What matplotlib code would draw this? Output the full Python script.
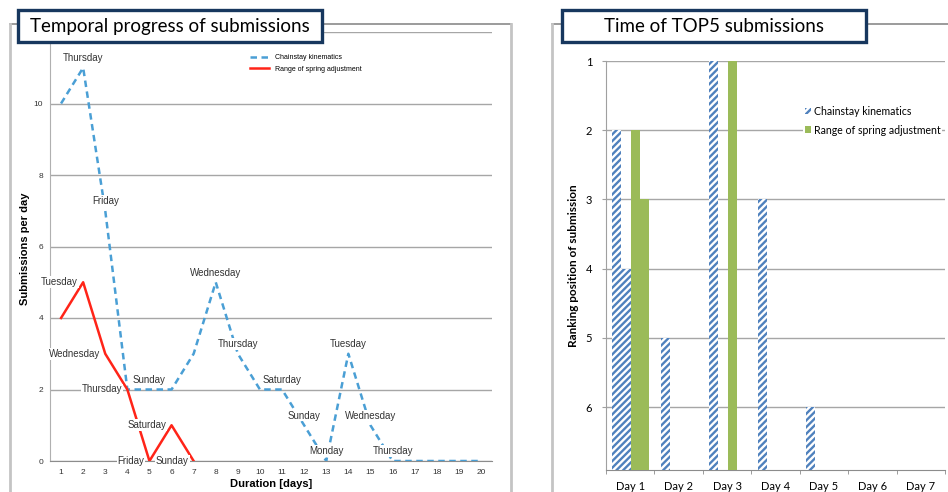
import matplotlib.pyplot as plt
from matplotlib.patches import Rectangle, Patch
from matplotlib.lines import Line2D
import numpy as np

W, H = 948, 492

# left chart: submissions per day
days = list(range(1, 21))
chainstay = [10, 11, 7, 2, 2, 2, 3, 5, 3, 2, 2, 1, 0, 3, 1, 0, 0, 0, 0, 0]
spring_days = list(range(1, 8))
spring = [4, 5, 3, 2, 0, 1, 0]
chainstay_weekdays = {2: 'Thursday', 3: 'Friday', 5: 'Sunday', 8: 'Wednesday',
                      9: 'Thursday', 11: 'Saturday', 12: 'Sunday', 13: 'Monday',
                      14: 'Tuesday', 15: 'Wednesday', 16: 'Thursday'}
spring_weekdays = {2: 'Tuesday', 3: 'Wednesday', 4: 'Thursday', 5: 'Friday',
                   6: 'Saturday', 7: 'Sunday'}

# right chart: ranking positions of the TOP5 submissions
top5_days = ['Day 1', 'Day 2', 'Day 3', 'Day 4', 'Day 5', 'Day 6', 'Day 7']
chainstay_rank_a = [2, 5, 1, 3, 6, np.nan, np.nan]
chainstay_rank_b = [4, np.nan, np.nan, np.nan, np.nan, np.nan, np.nan]
spring_rank_a = [2, np.nan, 1, np.nan, np.nan, np.nan, np.nan]
spring_rank_b = [3, np.nan, np.nan, np.nan, np.nan, np.nan, np.nan]

BLUE_LINE = '#4A9FD5'
RED_LINE = '#FF2418'
HATCH_BLUE = '#4F81BD'
GREEN = '#9BBB59'
NAVY = '#17375E'
GRID = '#A6A6A6'
TXT = '#333333'

plt.rcParams['hatch.linewidth'] = 1.7

fig = plt.figure(figsize=(W / 100, H / 100), dpi=100)


def fx(x):
    return x / W


def fy(y):
    return 1 - y / H


def frame_lines(x0, x1, top):
    fig.add_artist(Line2D([fx(x0), fx(x1)], [fy(top), fy(top)], color='#808080', lw=1.1,
                          transform=fig.transFigure))
    for xv in (x0, x1):
        fig.add_artist(Line2D([fx(xv), fx(xv)], [fy(top), 0], color='#C4C4C4', lw=2,
                              transform=fig.transFigure))


def title_box(x0, x1, text):
    fig.add_artist(Rectangle((fx(x0), fy(42)), fx(x1) - fx(x0), fy(10) - fy(42),
                             facecolor='white', edgecolor=NAVY, lw=2.4,
                             transform=fig.transFigure, zorder=5))
    fig.text(fx((x0 + x1) / 2), fy(26.5), text, ha='center', va='center',
             fontsize=13.5, family='Lato', color='black', zorder=6)


frame_lines(10, 511, 24)
frame_lines(552, 960, 24)

# ---------------- left: temporal progress ----------------
ax = fig.add_axes([fx(50), fy(461), fx(492) - fx(50), fy(32) - fy(461)])
ax.plot(days, chainstay, color=BLUE_LINE, lw=1.8, ls=(0, (2.6, 1.8)),
        label='Chainstay kinematics', zorder=3)
ax.plot(spring_days, spring, color=RED_LINE, lw=1.8, label='Range of spring adjustment',
        zorder=4)

box = dict(facecolor='white', edgecolor='none', pad=0.6)
for d, name in chainstay_weekdays.items():
    ax.annotate(name, (d, chainstay[d - 1]), xytext=(0, 7), textcoords='offset points',
                ha='center', va='center', fontsize=7, family='Liberation Sans',
                color=TXT, bbox=box, zorder=6)
for d, name in spring_weekdays.items():
    ax.annotate(name, (d, spring[d - 1]), xytext=(-3.6, 0), textcoords='offset points',
                ha='right', va='center', fontsize=7, family='Liberation Sans',
                color=TXT, bbox=box, zorder=6)

ax.set_xlim(0.5, 20.5)
ax.set_ylim(0, 12)
ax.set_xticks(days)
yt = list(range(0, 13, 2))
ax.set_yticks(yt)
ax.set_yticklabels([str(v) if v < 12 else '' for v in yt])
ax.tick_params(length=0, labelsize=6, labelcolor=TXT)
ax.tick_params(axis='x', pad=6)
ax.tick_params(axis='y', pad=5)
for lab in ax.get_xticklabels() + ax.get_yticklabels():
    lab.set_family('Liberation Sans')
ax.grid(axis='y', color=GRID, lw=1)
ax.set_axisbelow(True)
for s in ('top', 'right'):
    ax.spines[s].set_visible(False)
ax.spines['left'].set_color('#B0B0B0')
ax.spines['bottom'].set_color('#8C8C8C')
ax.set_xlabel('Duration [days]', fontsize=8, fontweight='bold', family='Liberation Sans')
ax.set_ylabel('Submissions per day', fontsize=8, fontweight='bold', family='Liberation Sans')
ax.xaxis.set_label_coords(0.5, -18 / 429)
ax.yaxis.set_label_coords(-20 / 442, 0.495)
ax.legend(loc='upper left', bbox_to_anchor=((247 - 50) / 442, (461 - 51) / 429),
          frameon=False, prop={'family': 'Liberation Sans', 'size': 5},
          handlelength=2.6, handletextpad=1.0, labelspacing=0.6, borderpad=0)

# ---------------- right: TOP5 submissions ----------------
ax2 = fig.add_axes([fx(606), fy(470), fx(945) - fx(606), fy(61) - fy(470)])
ybot = 6.91
xpos = np.arange(len(top5_days))
width = 0.19
series = [(chainstay_rank_a, 'hatch'), (chainstay_rank_b, 'hatch'),
          (spring_rank_a, 'green'), (spring_rank_b, 'green')]
for i, (vals, kind) in enumerate(series):
    vals = np.array(vals, dtype=float)
    ok = ~np.isnan(vals)
    off = (i - 1.5) * width + 0.01
    if kind == 'hatch':
        ax2.bar(xpos[ok] + off, vals[ok] - ybot, bottom=ybot, width=width,
                facecolor='white', edgecolor=HATCH_BLUE, hatch='/////', lw=0, zorder=3)
    else:
        ax2.bar(xpos[ok] + off, vals[ok] - ybot, bottom=ybot, width=width,
                color=GREEN, lw=0, zorder=3)

ax2.set_xlim(-0.5, len(top5_days) - 0.5)
ax2.set_ylim(ybot, 1)
ax2.set_yticks(range(1, 7))
ax2.set_xticks(xpos)
ax2.set_xticklabels(top5_days)
ax2.set_xticks(np.arange(-0.5, len(top5_days)), minor=True)
ax2.tick_params(axis='x', which='major', length=0, pad=8)
ax2.tick_params(axis='x', which='minor', length=3, color='#8C8C8C')
ax2.tick_params(axis='y', length=3, color='#A0A0A0', pad=7)
ax2.tick_params(labelsize=8, labelcolor='black')
for lab in ax2.get_xticklabels() + ax2.get_yticklabels():
    lab.set_family('Lato')
ax2.grid(axis='y', color=GRID, lw=1)
ax2.set_axisbelow(True)
for s in ('top', 'right'):
    ax2.spines[s].set_visible(False)
ax2.spines['left'].set_color('#A0A0A0')
ax2.spines['bottom'].set_color('#8C8C8C')
ax2.set_ylabel('Ranking position of submission', fontsize=8.5, fontweight='bold', family='Lato')
ax2.yaxis.set_label_coords(-27 / 339, 0.5)

handles = [Patch(facecolor='white', edgecolor=HATCH_BLUE, hatch='/////', lw=0),
           Patch(facecolor=GREEN, lw=0)]
ax2.legend(handles, ['Chainstay kinematics', 'Range of spring adjustment'],
           loc='upper left', bbox_to_anchor=((803 - 606) / 339, (470 - 104) / 409),
           frameon=True, facecolor='white', edgecolor='none', framealpha=1, fancybox=False,
           prop={'family': 'Lato', 'size': 7.6}, handlelength=0.6, handleheight=0.6,
           handletextpad=0.3, labelspacing=0.75, borderpad=0.15, borderaxespad=0)

title_box(18, 322, 'Temporal progress of submissions')
title_box(562, 866, 'Time of TOP5 submissions')

fig.savefig('out.png', dpi=100)
